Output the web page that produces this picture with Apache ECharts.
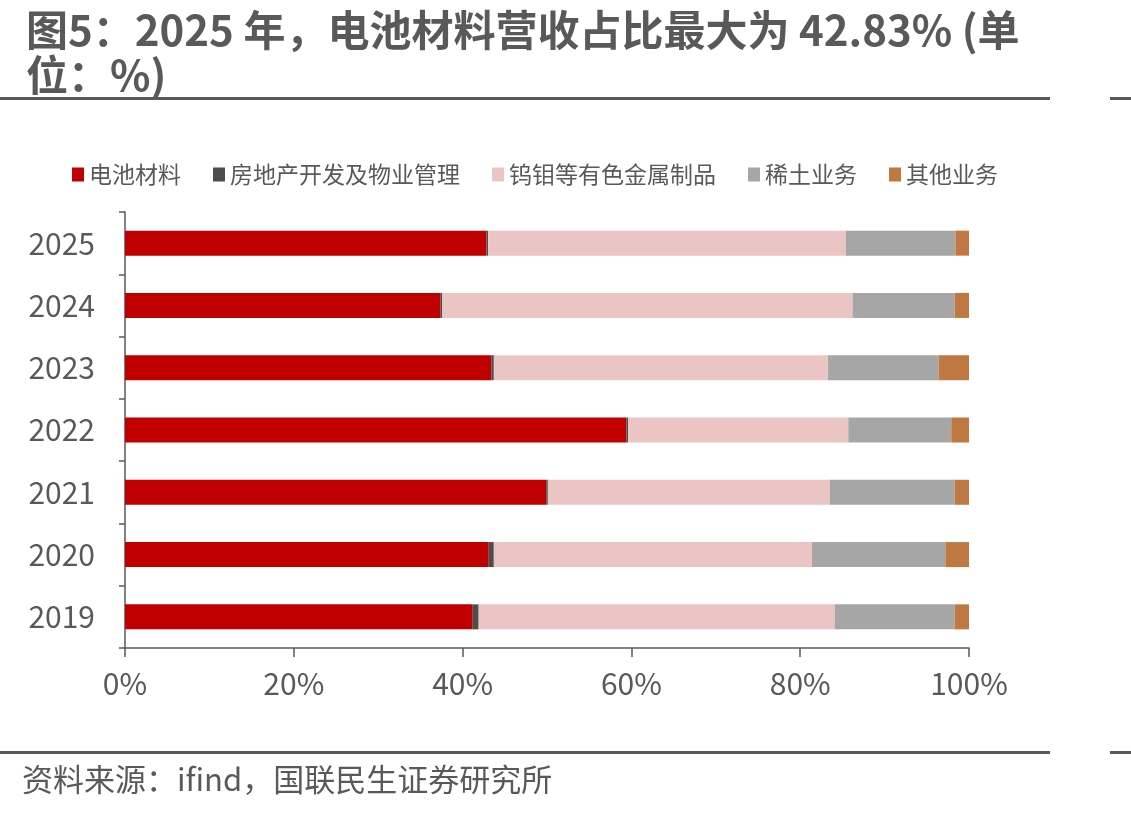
<!DOCTYPE html>
<html>
<head>
<meta charset="utf-8">
<script src="https://cdn.jsdelivr.net/npm/echarts@6/dist/echarts.min.js"></script>
<style>
html, body { margin: 0; padding: 0; background: #fff; }
#chart { width: 1131px; height: 815px; }
</style>
</head>
<body>
<div id="chart"></div>
<script>
const years = ['2019', '2020', '2021', '2022', '2023', '2024', '2025'];
const battery = [41.2, 43.1, 49.9, 59.4, 43.4, 37.4, 42.83];
const realEstate = [0.7, 0.6, 0.2, 0.2, 0.3, 0.2, 0.2];
const tungsten = [42.2, 37.7, 33.4, 26.1, 39.6, 48.6, 42.37];
const rareEarth = [14.2, 15.8, 14.8, 12.2, 13.1, 12.1, 13.0];
const others = [1.7, 2.8, 1.7, 2.1, 3.6, 1.7, 1.6];

const names = ['电池材料', '房地产开发及物业管理', '钨钼等有色金属制品', '稀土业务', '其他业务'];
const colors = ['#C00000', '#4D4D4D', '#EBC4C4', '#A6A6A6', '#BF7841'];
const values = [battery, realEstate, tungsten, rareEarth, others];

const textColor = '#595959';
const font = '"Noto Sans CJK SC", "Noto Sans", sans-serif';

const chart = echarts.init(document.getElementById('chart'));

chart.setOption({
    backgroundColor: '#fff',
    textStyle: { fontFamily: font, color: textColor },
    color: colors,
    graphic: [
        {
            type: 'text', left: 26, top: 8,
            style: {
                text: '图5：2025 年，电池材料营收占比最大为 42.83% (单\n位：%)',
                font: 'bold 42px ' + font, fill: textColor, lineHeight: 45
            }
        },
        { type: 'rect', shape: { x: 0, y: 97, width: 1050, height: 3 }, style: { fill: textColor } },
        { type: 'rect', shape: { x: 1110, y: 97, width: 21, height: 3 }, style: { fill: textColor } },
        { type: 'rect', shape: { x: 0, y: 751, width: 1050, height: 3 }, style: { fill: textColor } },
        { type: 'rect', shape: { x: 1110, y: 751, width: 21, height: 3 }, style: { fill: textColor } },
        {
            type: 'text', left: 22, top: 764,
            style: { text: '资料来源：ifind，国联民生证券研究所', font: '31px ' + font, fill: textColor }
        }
    ],
    legend: {
        left: 67, top: 158,
        itemWidth: 12, itemHeight: 14, itemGap: 32,
        icon: 'rect',
        textStyle: { fontSize: 23, color: textColor, fontFamily: font },
        data: names
    },
    grid: { left: 125, right: 162, top: 212, bottom: 167, containLabel: false },
    xAxis: {
        type: 'value', min: 0, max: 100, interval: 20,
        axisLine: { show: true, lineStyle: { color: textColor, width: 1.5 } },
        axisTick: { show: true, length: 9, lineStyle: { color: textColor, width: 1.5 } },
        axisLabel: { formatter: '{value}%', fontSize: 30, color: textColor, margin: 21, fontFamily: font },
        splitLine: { show: false }
    },
    yAxis: {
        type: 'category', data: years,
        axisLine: { show: true, lineStyle: { color: textColor, width: 1.5 } },
        axisTick: { show: true, length: 6, lineStyle: { color: textColor, width: 1.5 } },
        axisLabel: { fontSize: 30, color: textColor, margin: 30, fontFamily: font }
    },
    series: names.map((n, i) => ({
        name: n, type: 'bar', stack: 'total',
        barWidth: 25,
        data: values[i],
        itemStyle: { color: colors[i] }
    }))
});
</script>
</body>
</html>
